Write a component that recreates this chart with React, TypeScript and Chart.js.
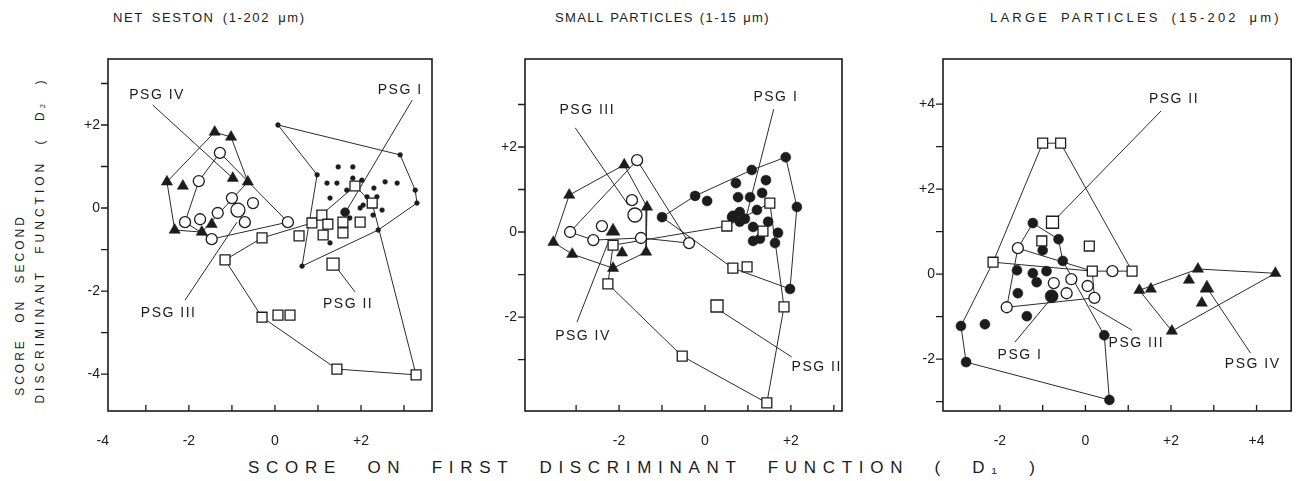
import React, { useEffect, useRef } from "react";
import { Chart, registerables } from "chart.js";

Chart.register(...registerables);

type Pt = [number, number];

const FONT = '"Liberation Sans", "DejaVu Sans", Arial, sans-serif';
const INK = "#1c1c1c";
const LINE = "#2b2b2b";

// ---------------- Panel 1 : NET SESTON (1-202 µm) ----------------
const P1_PSG1: Pt[] = [[0.07,2.00],[2.91,1.28],[3.26,0.43],[3.30,0.12],[2.40,-0.53],[0.63,-1.40],[0.98,0.80],[1.47,0.99],[1.81,0.99],[1.21,0.60],[1.44,0.60],[1.81,0.72],[2.02,0.67],[2.30,0.48],[2.56,0.63],[2.84,0.60],[1.67,0.43],[2.14,0.27],[2.37,0.27],[2.05,0.07],[2.49,-0.05],[1.74,-0.24],[1.28,0.24],[1.28,-0.84],[1.98,0.00],[2.28,-0.17]];
const P1_PSG1_BIG: Pt[] = [[1.63,-0.10]];
const P1_PSG2: Pt[] = [[-1.16,-1.25],[-0.30,-0.72],[0.56,-0.67],[0.86,-0.36],[1.09,-0.17],[1.23,-0.39],[1.58,-0.34],[1.58,-0.60],[1.12,-0.65],[1.98,-0.34],[1.86,0.53],[2.26,0.12],[-0.30,-2.63],[0.07,-2.58],[0.35,-2.58],[1.44,-3.88],[3.28,-4.02]];
const P1_PSG2_BIG: Pt[] = [[1.35,-1.35]];
const P1_PSG3: Pt[] = [[-1.28,1.33],[-1.77,0.65],[-1.00,0.24],[-1.33,-0.12],[-2.09,-0.34],[-1.74,-0.27],[-1.47,-0.75],[-0.51,0.12],[-0.70,-0.34],[0.30,-0.34]];
const P1_PSG3_BIG: Pt[] = [[-0.86,-0.05]];
const P1_PSG4: Pt[] = [[-2.51,0.63],[-2.14,0.53],[-1.40,1.83],[-1.02,1.71],[-0.98,0.72],[-0.63,0.63],[-2.33,-0.53],[-1.70,-0.58],[-1.47,-0.39]];
const P1_PSG4_BIG: Pt[] = [];
const P1_HULL1: Pt[] = [[0.07,2.00],[2.91,1.28],[3.26,0.43],[3.30,0.12],[2.40,-0.53],[0.63,-1.40],[0.98,0.80],[0.07,2.00]];
const P1_HULL2: Pt[] = [[-1.16,-1.25],[-0.30,-0.72],[0.86,-0.36],[1.86,0.53],[2.26,0.12],[3.28,-4.02],[1.44,-3.88],[-0.30,-2.63],[-1.16,-1.25]];
const P1_HULL3: Pt[] = [[-1.28,1.33],[0.30,-0.34],[-1.47,-0.75],[-2.09,-0.34],[-1.77,0.65],[-1.28,1.33]];
const P1_HULL4: Pt[] = [[-2.51,0.63],[-1.40,1.83],[-1.02,1.71],[-0.63,0.63],[-1.70,-0.58],[-2.33,-0.53],[-2.51,0.63]];
const P1_LEADERS: Pt[][] = [[[-2.84,2.48],[-0.98,0.72]],[[-2.09,-2.22],[-0.88,-0.34]],[[1.86,-2.02],[1.44,-1.45]],[[3.19,2.60],[1.67,-0.05]]];
const P1_NOTE_TEXT = ["PSG IV", "PSG III", "PSG II", "PSG I"];
const P1_NOTE_POS: Pt[] = [[-2.74,2.72],[-2.47,-2.53],[1.70,-2.31],[2.91,2.84]];
const P1_X_RANGE = [-3.88, 3.65];
const P1_Y_RANGE = [-4.89, 3.59];
const P1_X_TICKS = [-3,-2,-1,0,1,2,3];
const P1_X_LABELS = [-4,-2,0,2];
const P1_Y_TICKS = [-4,-3,-2,-1,0,1,2,3];
const P1_Y_LABELS = [-4,-2,0,2];

// ---------------- Panel 2 : SMALL PARTICLES (1-15 µm) ----------------
const P2_PSG1: Pt[] = [[-1.00,0.35],[-0.23,0.85],[0.05,0.73],[1.09,1.46],[1.88,1.76],[1.42,1.22],[0.72,1.15],[0.77,0.82],[1.05,0.82],[1.33,0.92],[1.21,0.52],[2.14,0.59],[0.65,0.38],[0.81,0.47],[0.63,0.35],[0.81,0.24],[1.12,0.12],[1.47,0.24],[1.70,-0.02],[1.12,-0.21],[1.28,-0.16],[1.63,-0.26],[1.98,-1.34],[0.93,0.31]];
const P2_PSG1_BIG: Pt[] = [];
const P2_PSG2: Pt[] = [[-2.26,-1.22],[-2.14,-0.31],[0.51,0.14],[1.35,0.02],[1.51,0.68],[0.65,-0.85],[0.98,-0.82],[-0.53,-2.92],[1.44,-4.02],[1.84,-1.76]];
const P2_PSG2_BIG: Pt[] = [[0.28,-1.74]];
const P2_PSG3: Pt[] = [[-3.14,0.00],[-2.40,0.14],[-2.60,-0.19],[-1.58,1.69],[-1.70,0.75],[-1.49,-0.14],[-0.37,-0.26]];
const P2_PSG3_BIG: Pt[] = [[-1.63,0.40]];
const P2_PSG4: Pt[] = [[-3.53,-0.24],[-3.16,0.87],[-1.88,1.58],[-1.35,0.59],[-1.37,-0.47],[-2.14,-0.85],[-3.09,-0.52],[-1.93,-0.49]];
const P2_PSG4_BIG: Pt[] = [[-2.14,0.02]];
const P2_HULL1: Pt[] = [[-1.00,0.35],[-0.23,0.85],[1.09,1.46],[1.88,1.76],[2.14,0.59],[1.98,-1.34],[0.65,-0.85],[-1.00,0.35]];
const P2_HULL2: Pt[] = [[-2.26,-1.22],[-2.14,-0.31],[0.51,0.14],[1.51,0.68],[1.84,-1.76],[1.44,-4.02],[-0.53,-2.92],[-2.26,-1.22]];
const P2_HULL3: Pt[] = [[-3.14,0.00],[-1.58,1.69],[-0.37,-0.26],[-1.49,-0.14],[-2.60,-0.19],[-3.14,0.00]];
const P2_HULL4: Pt[] = [[-3.53,-0.24],[-3.16,0.87],[-1.88,1.58],[-1.35,0.59],[-1.37,-0.47],[-2.14,-0.85],[-3.09,-0.52],[-3.53,-0.24]];
const P2_LEADERS: Pt[][] = [[[-3.02,2.45],[-1.79,0.64]],[[1.60,2.89],[0.93,0.24]],[[-2.98,-2.12],[-2.26,-0.26]],[[2.02,-2.94],[0.40,-1.88]]];
const P2_NOTE_TEXT = ["PSG III", "PSG I", "PSG IV", "PSG II"];
const P2_NOTE_POS: Pt[] = [[-2.74,2.87],[1.65,3.18],[-2.84,-2.45],[2.60,-3.18]];
const P2_X_RANGE = [-4.19, 3.19];
const P2_Y_RANGE = [-4.21, 4.07];
const P2_X_TICKS = [-3,-2,-1,0,1,2,3];
const P2_X_LABELS = [-2,0,2];
const P2_Y_TICKS = [-3,-2,-1,0,1,2,3];
const P2_Y_LABELS = [-2,0,2];

// ---------------- Panel 3 : LARGE PARTICLES (15-202 µm) ----------------
const P3_PSG1: Pt[] = [[-1.23,1.20],[-0.63,0.82],[-1.00,0.56],[-0.53,0.31],[-1.60,0.09],[-1.23,0.02],[-0.91,0.07],[-1.14,-0.19],[-1.58,-0.45],[-1.37,-0.99],[-2.35,-1.18],[-2.91,-1.22],[-2.79,-2.07],[0.44,-1.44],[0.56,-2.96]];
const P3_PSG1_BIG: Pt[] = [[-0.79,-0.52]];
const P3_PSG2: Pt[] = [[-1.00,3.08],[-0.58,3.08],[-1.02,0.78],[0.09,0.66],[-2.16,0.28],[0.16,0.07],[1.09,0.07]];
const P3_PSG2_BIG: Pt[] = [[-0.77,1.22]];
const P3_PSG3: Pt[] = [[-1.58,0.61],[-0.74,-0.21],[-0.33,-0.12],[-0.44,-0.45],[0.05,-0.28],[0.21,-0.56],[-1.84,-0.78],[0.63,0.07]];
const P3_PSG3_BIG: Pt[] = [];
const P3_PSG4: Pt[] = [[1.26,-0.38],[1.53,-0.35],[2.63,0.12],[2.42,-0.14],[2.72,-0.68],[2.02,-1.34],[4.44,0.02]];
const P3_PSG4_BIG: Pt[] = [[2.84,-0.33]];
const P3_HULL1: Pt[] = [[-1.58,0.61],[-1.23,1.20],[-0.63,0.82],[-0.53,0.31],[0.44,-1.44],[0.56,-2.96],[-2.79,-2.07],[-2.91,-1.22],[-2.16,0.28]];
const P3_HULL2: Pt[] = [[-2.16,0.28],[-1.00,3.08],[-0.58,3.08],[1.09,0.07],[0.16,0.07],[-2.16,0.28]];
const P3_HULL3: Pt[] = [[-1.58,0.61],[0.16,0.07],[0.21,-0.56],[-1.84,-0.78],[-1.58,0.61]];
const P3_HULL4: Pt[] = [[1.26,-0.38],[2.63,0.12],[4.44,0.02],[2.02,-1.34],[1.26,-0.38]];
const P3_LEADERS: Pt[][] = [[[1.77,3.84],[-0.77,1.22]],[[-1.65,-1.60],[-0.79,-0.56]],[[1.09,-1.32],[0.09,-0.73]],[[3.86,-1.86],[2.88,-0.38]]];
const P3_NOTE_TEXT = ["PSG II", "PSG I", "PSG III", "PSG IV"];
const P3_NOTE_POS: Pt[] = [[2.07,4.12],[-1.53,-1.91],[1.19,-1.62],[3.91,-2.12]];
const P3_X_RANGE = [-3.33, 4.81];
const P3_Y_RANGE = [-3.22, 5.06];
const P3_X_TICKS = [-2,-1,0,1,2,3,4];
const P3_X_LABELS = [-2,0,2,4];
const P3_Y_TICKS = [-3,-2,-1,0,1,2,3,4];
const P3_Y_LABELS = [-2,0,2,4];

interface PanelCfg {
  i: Pt[]; iBig: Pt[]; ii: Pt[]; iiBig: Pt[]; iii: Pt[]; iiiBig: Pt[]; iv: Pt[]; ivBig: Pt[];
  dotR: number; dotBigR: number;
  hulls: Pt[][]; leaders: Pt[][];
  noteText: string[]; notePos: Pt[];
  xRange: number[]; yRange: number[];
  xTicks: number[]; xLabels: number[]; yTicks: number[]; yLabels: number[];
  box: { x: number; y: number; w: number; h: number; padRight: number };
}

const PANELS: PanelCfg[] = [
  {
    i: P1_PSG1, iBig: P1_PSG1_BIG, ii: P1_PSG2, iiBig: P1_PSG2_BIG, iii: P1_PSG3, iiiBig: P1_PSG3_BIG, iv: P1_PSG4, ivBig: P1_PSG4_BIG,
    dotR: 2.4, dotBigR: 4.5,
    hulls: [P1_HULL1, P1_HULL2, P1_HULL3, P1_HULL4], leaders: P1_LEADERS,
    noteText: P1_NOTE_TEXT, notePos: P1_NOTE_POS,
    xRange: P1_X_RANGE, yRange: P1_Y_RANGE, xTicks: P1_X_TICKS, xLabels: P1_X_LABELS, yTicks: P1_Y_TICKS, yLabels: P1_Y_LABELS,
    box: { x: 48, y: 34, w: 394, h: 422, padRight: 10 },
  },
  {
    i: P2_PSG1, iBig: P2_PSG1_BIG, ii: P2_PSG2, iiBig: P2_PSG2_BIG, iii: P2_PSG3, iiiBig: P2_PSG3_BIG, iv: P2_PSG4, ivBig: P2_PSG4_BIG,
    dotR: 5, dotBigR: 6.5,
    hulls: [P2_HULL1, P2_HULL2, P2_HULL3, P2_HULL4], leaders: P2_LEADERS,
    noteText: P2_NOTE_TEXT, notePos: P2_NOTE_POS,
    xRange: P2_X_RANGE, yRange: P2_Y_RANGE, xTicks: P2_X_TICKS, xLabels: P2_X_LABELS, yTicks: P2_Y_TICKS, yLabels: P2_Y_LABELS,
    box: { x: 465, y: 34, w: 387, h: 422, padRight: 10 },
  },
  {
    i: P3_PSG1, iBig: P3_PSG1_BIG, ii: P3_PSG2, iiBig: P3_PSG2_BIG, iii: P3_PSG3, iiiBig: P3_PSG3_BIG, iv: P3_PSG4, ivBig: P3_PSG4_BIG,
    dotR: 5, dotBigR: 6.5,
    hulls: [P3_HULL1, P3_HULL2, P3_HULL3, P3_HULL4], leaders: P3_LEADERS,
    noteText: P3_NOTE_TEXT, notePos: P3_NOTE_POS,
    xRange: P3_X_RANGE, yRange: P3_Y_RANGE, xTicks: P3_X_TICKS, xLabels: P3_X_LABELS, yTicks: P3_Y_TICKS, yLabels: P3_Y_LABELS,
    box: { x: 883, y: 34, w: 418, h: 422, padRight: 8 },
  },
];

const fmt = (v: number) => (v > 0 ? `+${v}` : v < 0 ? `-${-v}` : "0");
const pts = (a: Pt[]) => a.map(([x, y]) => ({ x, y }));

function makeDecor(cfg: PanelCfg) {
  return {
    id: "decor",
    afterDatasetsDraw(chart: any) {
      const { ctx, chartArea: a, scales } = chart;
      const xs = scales.x;
      const ys = scales.y;
      ctx.save();
      ctx.strokeStyle = INK;
      ctx.lineWidth = 1.6;
      ctx.strokeRect(a.left, a.top, a.right - a.left, a.bottom - a.top);
      ctx.lineWidth = 1.3;
      ctx.beginPath();
      cfg.xTicks.forEach((v) => {
        const px = xs.getPixelForValue(v);
        ctx.moveTo(px, a.bottom);
        ctx.lineTo(px, a.bottom - 6);
      });
      cfg.yTicks.forEach((v) => {
        const py = ys.getPixelForValue(v);
        ctx.moveTo(a.left - 7, py);
        ctx.lineTo(a.left, py);
      });
      ctx.stroke();
      ctx.fillStyle = INK;
      ctx.font = `14px ${FONT}`;
      ctx.textAlign = "center";
      ctx.textBaseline = "middle";
      cfg.xLabels.forEach((v) => {
        ctx.fillText(fmt(v), xs.getPixelForValue(v), a.bottom + 30);
      });
      ctx.font = `14px ${FONT}`;
      (ctx as any).letterSpacing = "1.5px";
      cfg.noteText.forEach((t, k) => {
        const [x, y] = cfg.notePos[k];
        ctx.fillText(t, xs.getPixelForValue(x), ys.getPixelForValue(y));
      });
      ctx.restore();
    },
  };
}

function buildDatasets(cfg: PanelCfg) {
  const ds: any[] = [];
  const line = (a: Pt[]) => ({
    data: pts(a), showLine: true, borderColor: LINE, borderWidth: 1, pointRadius: 0, fill: false, tension: 0, order: 5,
  });
  cfg.hulls.forEach((h) => ds.push(line(h)));
  cfg.leaders.forEach((l) => ds.push(line(l)));
  const marker = (a: Pt[], style: string, r: number, filled: boolean) => ({
    data: pts(a), showLine: false, pointStyle: style, pointRadius: r,
    backgroundColor: filled ? INK : "#ffffff", borderColor: INK, borderWidth: filled ? 0.5 : 1.3, order: 1,
  });
  ds.push(marker(cfg.ii, "rect", 7, false));
  ds.push(marker(cfg.iiBig, "rect", 8.5, false));
  ds.push(marker(cfg.iii, "circle", 5.5, false));
  ds.push(marker(cfg.iiiBig, "circle", 7, false));
  ds.push(marker(cfg.iv, "triangle", 6.5, true));
  ds.push(marker(cfg.ivBig, "triangle", 8, true));
  ds.push(marker(cfg.i, "circle", cfg.dotR, true));
  ds.push(marker(cfg.iBig, "circle", cfg.dotBigR, true));
  return ds;
}

function Panel({ cfg }: { cfg: PanelCfg }) {
  const ref = useRef<HTMLCanvasElement>(null);
  useEffect(() => {
    const chart = new Chart(ref.current as HTMLCanvasElement, {
      type: "scatter",
      data: { datasets: buildDatasets(cfg) },
      options: {
        responsive: false,
        maintainAspectRatio: false,
        animation: false,
        events: [],
        layout: { padding: { top: 25, right: cfg.box.padRight, left: 0, bottom: 0 } },
        plugins: { legend: { display: false }, tooltip: { enabled: false }, title: { display: false } },
        scales: {
          x: {
            type: "linear", min: cfg.xRange[0], max: cfg.xRange[1],
            afterFit: (s: any) => { s.height = 45; },
            grid: { display: false, drawTicks: false },
            border: { display: false },
            ticks: { display: false },
          },
          y: {
            type: "linear", min: cfg.yRange[0], max: cfg.yRange[1],
            afterBuildTicks: (s: any) => { s.ticks = cfg.yTicks.map((v) => ({ value: v })); },
            afterFit: (s: any) => { s.width = 60; },
            grid: { display: false, drawTicks: false },
            border: { display: false },
            ticks: {
              autoSkip: false, padding: 8, color: INK, font: { family: FONT, size: 14 },
              callback: (v: any) => (cfg.yLabels.includes(Number(v)) ? fmt(Number(v)) : ""),
            },
          },
        },
      } as any,
      plugins: [makeDecor(cfg)],
    });
    return () => chart.destroy();
  }, [cfg]);
  const b = cfg.box;
  return (
    <canvas ref={ref} width={b.w} height={b.h}
      style={{ position: "absolute", left: b.x, top: b.y, width: b.w, height: b.h }} />
  );
}

const TITLES = ["NET SESTON (1-202 μm)", "SMALL PARTICLES (1-15 μm)", "LARGE PARTICLES (15-202 μm)"];
const Y_TITLE = ["SCORE ON SECOND", "DISCRIMINANT FUNCTION ( D₂ )"];
const X_TITLE = "SCORE ON FIRST DISCRIMINANT FUNCTION ( D₁ )";

export default function App() {
  const text: React.CSSProperties = { position: "absolute", whiteSpace: "nowrap", color: INK, fontFamily: FONT, lineHeight: 1 };
  return (
    <div style={{ position: "fixed", left: 0, top: 0, width: 1301, height: 481, background: "#fff", overflow: "hidden" }}>
      <div style={{ ...text, left: 113, top: 11, fontSize: 13, letterSpacing: "1.6px", wordSpacing: "3px" }}>{TITLES[0]}</div>
      <div style={{ ...text, left: 555, top: 11, fontSize: 13, letterSpacing: "1.4px", wordSpacing: "1px" }}>{TITLES[1]}</div>
      <div style={{ ...text, left: 990, top: 11, fontSize: 13, letterSpacing: "3.2px", wordSpacing: "4px" }}>{TITLES[2]}</div>
      <div style={{ ...text, left: 20, top: 305, fontSize: 12, letterSpacing: "3px", wordSpacing: "9px", transform: "translate(-50%,-50%) rotate(-90deg)" }}>{Y_TITLE[0]}</div>
      <div style={{ ...text, left: 40, top: 240, fontSize: 12, letterSpacing: "4px", wordSpacing: "8px", transform: "translate(-50%,-50%) rotate(-90deg)" }}>{Y_TITLE[1]}</div>
      <div style={{ ...text, left: 248, top: 459, fontSize: 17, letterSpacing: "6.7px", wordSpacing: "14px" }}>{X_TITLE}</div>
      {PANELS.map((p, k) => (
        <Panel key={k} cfg={p} />
      ))}
    </div>
  );
}
